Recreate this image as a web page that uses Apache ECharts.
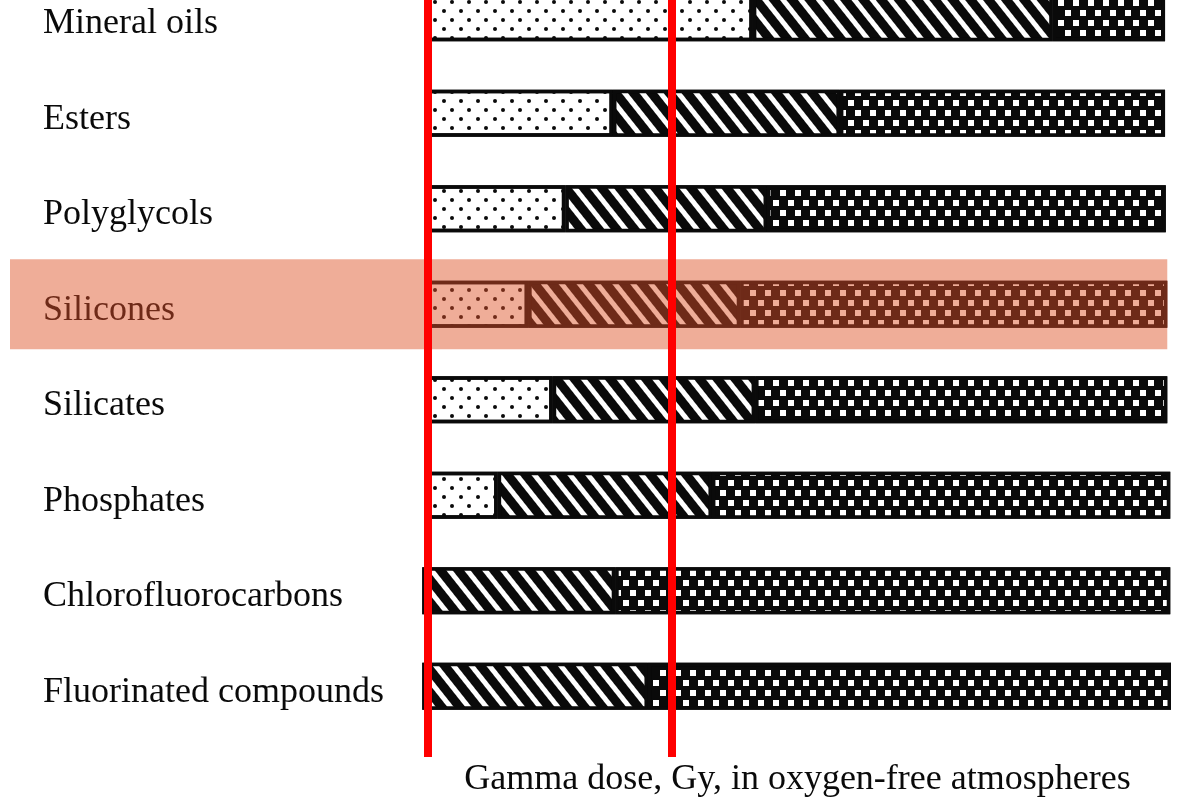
<!DOCTYPE html>
<html><head><meta charset="utf-8">
<script src="https://cdn.jsdelivr.net/npm/echarts@6/dist/echarts.min.js"></script>
<style>html,body{margin:0;padding:0;background:#fff}#c{width:1198px;height:799px}</style>
</head><body><div id="c"></div>
<script>
// ---- data (relative position along the dose bar, 0..100) ----
const categories = ['Mineral oils', 'Esters', 'Polyglycols', 'Silicones', 'Silicates', 'Phosphates', 'Chlorofluorocarbons', 'Fluorinated compounds'];
const dottedValues    = [44.2, 25.4, 19.0, 14.0, 17.3,  9.9,  0,    0];
const hatchedValues   = [40.3, 30.5, 27.1, 28.5, 27.2, 28.8, 25.7, 30.1];
const checkeredValues = [15.1, 43.7, 53.6, 57.4, 55.4, 61.6, 74.6, 70.3];
const markerValues = [0.54, 33.3];
const highlightCategory = 'Silicones';
const axisTitle = 'Gamma dose, Gy, in oxygen-free atmospheres';
const axisMax = 100.4;

// ---- styles ----
const FONT = 'Liberation Serif';
const INK = '#0a0a0a', PAPER = '#ffffff';
const HL_INK = '#6E2A18', HL_PAPER = '#EFAD98';
const RED = '#FF0000';

function dotDecal(ink) {
  return { symbol: 'circle', symbolSize: 1, color: ink, dashArrayX: [[4, 13], [0, 8, 4, 5]], dashArrayY: [4, 5] };
}
function hatchDecal(paper) {
  return { symbol: 'rect', symbolSize: 1, color: paper, dashArrayX: [1, 0], dashArrayY: [5, 9], rotation: 0.9 };
}
function checkDecal(paper) {
  return { symbol: 'rect', symbolSize: 1, color: paper, dashArrayX: [[6, 9], [0, 8, 6, 1]], dashArrayY: [6, 4] };
}

const hlIndex = categories.indexOf(highlightCategory);

function makeData(values, kind) {
  return values.map((v, i) => {
    if (i !== hlIndex) return v;
    let st;
    if (kind === 'dot') st = { color: HL_PAPER, borderColor: HL_INK, decal: dotDecal(HL_INK) };
    else if (kind === 'hatch') st = { color: HL_INK, borderColor: HL_INK, decal: hatchDecal(HL_PAPER) };
    else st = { color: HL_INK, borderColor: HL_INK, decal: checkDecal(HL_PAPER) };
    return { value: v, itemStyle: st };
  });
}

const barCommon = { type: 'bar', stack: 'total', barWidth: 47, xAxisIndex: 0, yAxisIndex: 0, silent: true, z: 2 };

const chart = echarts.init(document.getElementById('c'), null, { renderer: 'canvas' });
chart.setOption({
  animation: false,
  backgroundColor: '#ffffff',
  aria: { enabled: false },
  grid: [
    { left: 424, right: 27, top: -30, bottom: 65, containLabel: false, outerBoundsMode: 'none' },
    { left: 424, right: 27, top: 0, bottom: 42, containLabel: false, outerBoundsMode: 'none' }
  ],
  xAxis: [
    {
      type: 'value', gridIndex: 0, min: 0, max: axisMax,
      axisLine: { show: false }, axisTick: { show: false }, axisLabel: { show: false }, splitLine: { show: false },
      name: axisTitle, nameLocation: 'middle', nameGap: 28,
      nameTextStyle: { fontFamily: FONT, fontSize: 36, color: INK }
    },
    {
      type: 'value', gridIndex: 1, min: 0, max: axisMax, show: false
    }
  ],
  yAxis: [
    {
      type: 'category', gridIndex: 0, inverse: true,
      data: categories,
      axisLine: { show: false }, axisTick: { show: false }, splitLine: { show: false },
      axisLabel: {
        margin: 381, align: 'left', fontFamily: FONT, fontSize: 36, color: INK, padding: [12, 0, 0, 0],
        formatter: v => v === highlightCategory ? '{hl|' + v + '}' : v,
        rich: { hl: { color: HL_INK, fontFamily: FONT, fontSize: 36 } }
      }
    },
    { type: 'value', gridIndex: 1, min: 0, max: 1, show: false }
  ],
  series: [
    Object.assign({}, barCommon, {
      name: 'low dose', data: makeData(dottedValues, 'dot'),
      itemStyle: { color: PAPER, borderColor: INK, borderWidth: 3.5, decal: dotDecal(INK) }
    }),
    Object.assign({}, barCommon, {
      name: 'moderate dose', data: makeData(hatchedValues, 'hatch'),
      itemStyle: { color: INK, borderColor: INK, borderWidth: 3.5, decal: hatchDecal(PAPER) }
    }),
    Object.assign({}, barCommon, {
      name: 'high dose', data: makeData(checkeredValues, 'check'),
      itemStyle: { color: INK, borderColor: INK, borderWidth: 3.5, decal: checkDecal(PAPER) }
    }),
    {
      type: 'line', xAxisIndex: 1, yAxisIndex: 1, data: [], silent: true, z: 20,
      markLine: {
        silent: true, symbol: ['none', 'none'], label: { show: false },
        lineStyle: { color: RED, width: 8, type: 'solid' },
        data: markerValues.map(v => ({ xAxis: v }))
      }
    }
  ]
});

// highlight band behind the highlighted row, placed through the axes' scales
const cy = chart.convertToPixel({ yAxisIndex: 0 }, highlightCategory);
const nextCat = categories[hlIndex + 1];
const band = Math.abs(chart.convertToPixel({ yAxisIndex: 0 }, nextCat) - cy);
const hlTotal = dottedValues[hlIndex] + hatchedValues[hlIndex] + checkeredValues[hlIndex];
const xr = chart.convertToPixel({ xAxisIndex: 0 }, hlTotal);
const h = band * 0.94;
chart.setOption({
  graphic: [{
    type: 'rect', z: -1, silent: true,
    shape: { x: 10, y: cy - h / 2, width: xr - 10, height: h },
    style: { fill: HL_PAPER }
  }]
});
</script>
</body></html>
